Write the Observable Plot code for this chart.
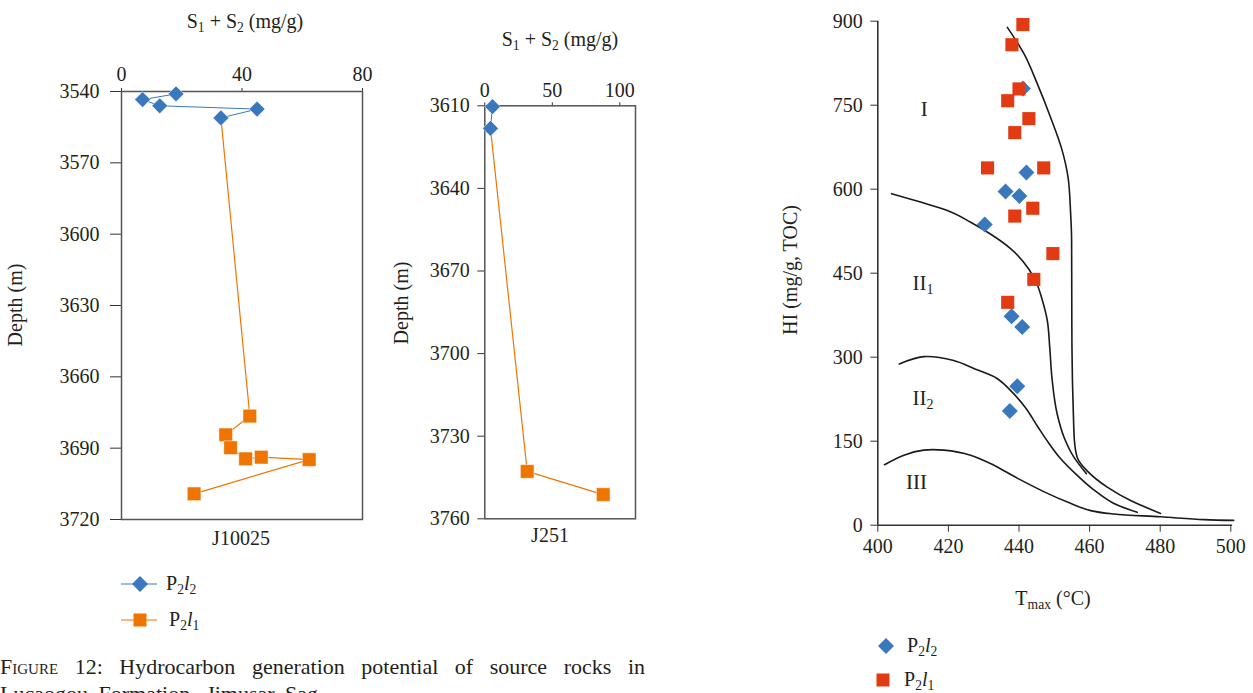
<!DOCTYPE html>
<html><head><meta charset="utf-8">
<script src="https://cdn.jsdelivr.net/npm/d3@7"></script>
<script src="https://cdn.jsdelivr.net/npm/@observablehq/plot@0.6"></script>
<style>
html,body{margin:0;padding:0;background:#fff;overflow:hidden;}
#root{position:relative;width:1253px;height:693px;overflow:hidden;font-family:"Liberation Serif","DejaVu Serif",serif;color:#231f20;}
.abs{position:absolute;white-space:nowrap;line-height:1;}
.t19{font-size:20px;}
sub{font-size:0.68em;vertical-align:-0.3em;line-height:0;}
svg.plot{position:absolute;top:0;overflow:visible;}
</style></head><body><div id="root"></div>
<script>
// ---------------- DATA ----------------
// Panel 1: well J10025, S1+S2 (mg/g) vs depth (m)
const j10025TicksX = [0, 40, 80];
const j10025TicksY = [3540, 3570, 3600, 3630, 3660, 3690, 3720];
const j10025P2l2S = [18.1, 7.0, 12.7, 45.0, 33.0];
const j10025P2l2Depth = [3541.0, 3543.4, 3546.0, 3547.4, 3551.1];
const j10025P2l1S = [42.6, 34.6, 36.2, 41.2, 46.4, 62.3, 24.1];
const j10025P2l1Depth = [3676.5, 3684.4, 3689.8, 3694.5, 3693.8, 3694.8, 3709.2];
// Panel 2: well J251
const j251TicksX = [0, 50, 100];
const j251TicksY = [3610, 3640, 3670, 3700, 3730, 3760];
const j251P2l2S = [5.7, 4.2];
const j251P2l2Depth = [3610.3, 3618.2];
const j251P2l1S = [31.4, 87.7];
const j251P2l1Depth = [3742.8, 3751.2];
// Panel 3: HI vs Tmax
const tmaxTicks = [400, 420, 440, 460, 480, 500];
const hiTicks = [0, 150, 300, 450, 600, 750, 900];
const p2l2Tmax = [441.1, 442.1, 436.2, 440.1, 430.3, 437.9, 440.9, 439.5, 437.4];
const p2l2HI   = [780, 630, 596, 588, 537, 373, 354, 248, 204];
const p2l1Tmax = [441.1, 438.0, 440.0, 436.8, 442.8, 438.8, 431.1, 447.0, 443.9, 438.8, 449.6, 444.2, 436.8];
const p2l1HI   = [894, 858, 779, 758, 726, 701, 638, 638, 566, 552, 485, 439, 398];
// kerogen type boundary curves
const curveIT  = [436.7, 441.4, 445.2, 448.9, 452.1, 453.9, 454.6, 454.9, 454.95, 455.0, 455.4, 455.7, 456.5, 459.3, 465.0, 471.6, 480.1];
const curveIHI = [889, 842, 788, 729, 672, 621, 560, 510, 401, 318, 199, 151, 121, 97, 68, 44, 21];
const curveII1T  = [403.9, 412.1, 419.7, 426.3, 431.9, 437.6, 442.8, 445.2, 446.6, 448.0, 448.7, 449.4, 450.8, 452.7, 455.5, 459.1];
const curveII1HI = [592, 577, 562, 541, 520, 494, 457, 429, 402, 366, 318, 259, 199, 158, 122, 92];
const curveII2T  = [406.1, 413.0, 421.5, 427.5, 433.8, 438.0, 441.8, 445.5, 448.5, 451.5, 456.5, 461.0, 466.5, 473.5];
const curveII2HI = [288, 301, 294, 279, 262, 238, 210, 174, 146, 121, 89, 64, 40, 23];
const curveIIIT  = [401.9, 407.4, 413.0, 418.7, 426.3, 432.9, 439.5, 447.0, 454.6, 460.3, 466.9, 480.1, 492.4, 500.8];
const curveIIIHI = [108, 125, 134, 134, 125, 107, 84, 60, 39, 26, 20, 15, 10, 8.6];
const regionNames = ["I", "II", "II", "III"];
const regionSubs = ["", "1", "2", ""];
const regionT = [412.7, 412.4, 412.4, 412.5];
const regionHI = [742, 432, 226, 76];

// ---------------- HELPERS ----------------
const BLUE = "#3a78bd", ORANGE = "#ee7600", RED = "#e23a12", INK = "#231f20";
const FONT = "Liberation Serif, DejaVu Serif, serif";
const zip = (xs, ys, kx, ky) => xs.map((v, i) => ({[kx]: v, [ky]: ys[i]}));
const root = document.getElementById("root");
function place(html, x, y, extra = "", rot = false) {
  const d = document.createElement("div");
  d.className = "abs t19";
  d.innerHTML = html;
  d.style.left = x + "px"; d.style.top = y + "px";
  d.style.transform = "translate(-50%,-50%)" + (rot ? " rotate(-90deg)" : "");
  if (extra) d.style.cssText += extra;
  root.appendChild(d);
}
function addPlot(svg, left) {
  svg.classList.add("plot");
  svg.style.left = left + "px";
  root.appendChild(svg);
}
const baseStyle = {fontFamily: FONT, fontSize: "20px", color: INK, background: "transparent", overflow: "visible"};

// ---------------- PANEL 1 ----------------
const p1Blue = zip(j10025P2l2S, j10025P2l2Depth, "s", "d");
const p1Orange = zip(j10025P2l1S, j10025P2l1Depth, "s", "d");
const p1OrangeLine = [p1Blue[p1Blue.length - 1], ...p1Orange];
addPlot(Plot.plot({
  width: 380, height: 560,
  marginLeft: 121, marginRight: 18, marginTop: 91, marginBottom: 41,
  style: baseStyle,
  x: {domain: [0, 80]},
  y: {domain: [3540, 3720], reverse: true},
  marks: [
    Plot.axisX({anchor: "top", ticks: j10025TicksX, tickSize: 4, tickPadding: 7, label: null, stroke: "#333", tickFormat: d => String(d)}),
    Plot.axisY({ticks: j10025TicksY, tickSize: 11, tickPadding: 11, label: null, stroke: "#333", tickFormat: d => String(d)}),
    Plot.frame({stroke: "#555", strokeWidth: 1.5}),
    Plot.line(p1Blue, {x: "s", y: "d", stroke: BLUE, strokeWidth: 1}),
    Plot.line(p1OrangeLine, {x: "s", y: "d", stroke: ORANGE, strokeWidth: 1.2}),
    Plot.dot(p1Blue, {x: "s", y: "d", symbol: "diamond2", r: 7.1, fill: BLUE, stroke: "white", strokeWidth: 0.5}),
    Plot.dot(p1Orange, {x: "s", y: "d", symbol: "square", r: 7.7, fill: ORANGE, stroke: "white", strokeWidth: 0.5})
  ]
}), 0);
place("S<sub>1</sub> + S<sub>2</sub> (mg/g)", 245, 21);
place("J10025", 241, 538);
place("Depth (m)", 15, 305, "", true);

// ---------------- PANEL 2 ----------------
const p2Blue = zip(j251P2l2S, j251P2l2Depth, "s", "d");
const p2Orange = zip(j251P2l1S, j251P2l1Depth, "s", "d");
const p2OrangeLine = [p2Blue[p2Blue.length - 1], ...p2Orange];
addPlot(Plot.plot({
  width: 270, height: 560,
  marginLeft: 104.3, marginRight: 15, marginTop: 105.3, marginBottom: 41.7,
  style: baseStyle,
  x: {domain: [0, 111.6]},
  y: {domain: [3610, 3760], reverse: true},
  marks: [
    Plot.axisX({anchor: "top", ticks: j251TicksX, tickSize: 4, tickPadding: 5, label: null, stroke: "#333", tickFormat: d => String(d)}),
    Plot.axisY({ticks: j251TicksY, tickSize: 7, tickPadding: 8, label: null, stroke: "#333", tickFormat: d => String(d)}),
    Plot.frame({stroke: "#555", strokeWidth: 1.5}),
    Plot.line(p2Blue, {x: "s", y: "d", stroke: BLUE, strokeWidth: 1}),
    Plot.line(p2OrangeLine, {x: "s", y: "d", stroke: ORANGE, strokeWidth: 1.2}),
    Plot.dot(p2Blue, {x: "s", y: "d", symbol: "diamond2", r: 7.1, fill: BLUE, stroke: "white", strokeWidth: 0.5}),
    Plot.dot(p2Orange, {x: "s", y: "d", symbol: "square", r: 7.7, fill: ORANGE, stroke: "white", strokeWidth: 0.5})
  ]
}), 380);
place("S<sub>1</sub> + S<sub>2</sub> (mg/g)", 560, 39);
place("J251", 550, 535);
place("Depth (m)", 401, 303, "", true);

// ---------------- PANEL 3 ----------------
const curves = [
  [zip(curveIT, curveIHI, "t", "hi"), "monotone-y"],
  [zip(curveII1T, curveII1HI, "t", "hi"), "monotone-y"],
  [zip(curveII2T, curveII2HI, "t", "hi"), "catmull-rom"],
  [zip(curveIIIT, curveIIIHI, "t", "hi"), "catmull-rom"]
];
const regions = regionNames.map((n, i) => ({n, s: regionSubs[i], t: regionT[i], hi: regionHI[i]}));
addPlot(Plot.plot({
  width: 483, height: 560,
  marginLeft: 107.3, marginRight: 22.7, marginTop: 20.7, marginBottom: 35.3,
  style: baseStyle,
  x: {domain: [400, 500]},
  y: {domain: [0, 900]},
  marks: [
    Plot.axisX({ticks: tmaxTicks, tickSize: 7, tickPadding: 7, label: null, stroke: "#333"}),
    Plot.axisY({ticks: hiTicks, tickSize: 7, tickPadding: 8, label: null, stroke: "#333"}),
    Plot.ruleX([400], {y1: 0, y2: 900, stroke: "#333", strokeWidth: 1.6}),
    Plot.ruleY([0], {x1: 400, x2: 500.5, stroke: "#333", strokeWidth: 1.6}),
    ...curves.map(([c, k]) => Plot.line(c, {x: "t", y: "hi", stroke: "#1a1a1a", strokeWidth: 1.6, curve: k})),
    Plot.text(regions, {x: "t", y: "hi", text: "n", textAnchor: "end", dx: 5, fontSize: 21, fill: INK}),
    Plot.text(regions, {x: "t", y: "hi", text: "s", textAnchor: "start", dx: 5, dy: 6, fontSize: 14, fill: INK}),
    Plot.dot(zip(p2l2Tmax, p2l2HI, "t", "hi"), {x: "t", y: "hi", symbol: "diamond2", r: 7.2, fill: BLUE}),
    Plot.dot(zip(p2l1Tmax, p2l1HI, "t", "hi"), {x: "t", y: "hi", symbol: "square", r: 7.4, fill: RED})
  ]
}), 770);
place("HI (mg/g, TOC)", 790, 270, "", true);
place("T<sub>max</sub> (°C)", 1053, 598);

// ---------------- LEGENDS ----------------
function legendRow(x0, y, withLine, color, sym, label, tx) {
  const s = document.createElementNS("http://www.w3.org/2000/svg", "svg");
  s.setAttribute("width", 44); s.setAttribute("height", 20);
  s.style.cssText = `position:absolute;left:${x0 - 22}px;top:${y - 10}px;overflow:visible`;
  let inner = "";
  if (withLine) inner += `<line x1="3" x2="39" y1="10" y2="10" stroke="${color}" stroke-width="1.2"/>`;
  if (sym === "diamond") inner += `<path d="M22,2L30,10L22,18L14,10Z" fill="${color}"/>`;
  else inner += `<rect x="15.5" y="3.5" width="13" height="13" fill="${color}"/>`;
  s.innerHTML = inner;
  root.appendChild(s);
  const d = document.createElement("div");
  d.className = "abs t19";
  d.innerHTML = label;
  d.style.left = tx + "px"; d.style.top = (y - 11) + "px";
  root.appendChild(d);
}
const lbl2 = "P<sub>2</sub><i>l</i><sub>2</sub>", lbl1 = "P<sub>2</sub><i>l</i><sub>1</sub>";
legendRow(140, 584, true, BLUE, "diamond", lbl2, 166);
legendRow(140, 620, true, ORANGE, "square", lbl1, 169);
legendRow(886, 646, false, BLUE, "diamond", lbl2, 907);
legendRow(883, 680, false, RED, "square", lbl1, 904);

// ---------------- CAPTION ----------------
const cap1 = document.createElement("div");
cap1.style.cssText = "position:absolute;left:0;top:654px;width:645px;font-size:22px;line-height:26px;text-align:justify;text-align-last:justify;white-space:normal;";
cap1.innerHTML = '<span style="font-variant:small-caps">Figure</span> 12: Hydrocarbon generation potential of source rocks in';
root.appendChild(cap1);
const cap2 = document.createElement("div");
cap2.style.cssText = "position:absolute;left:0;top:681px;width:645px;font-size:22px;line-height:26px;white-space:nowrap;word-spacing:5px;";
cap2.innerHTML = 'Lucaogou Formation, Jimusar Sag.';
root.appendChild(cap2);
</script></body></html>
